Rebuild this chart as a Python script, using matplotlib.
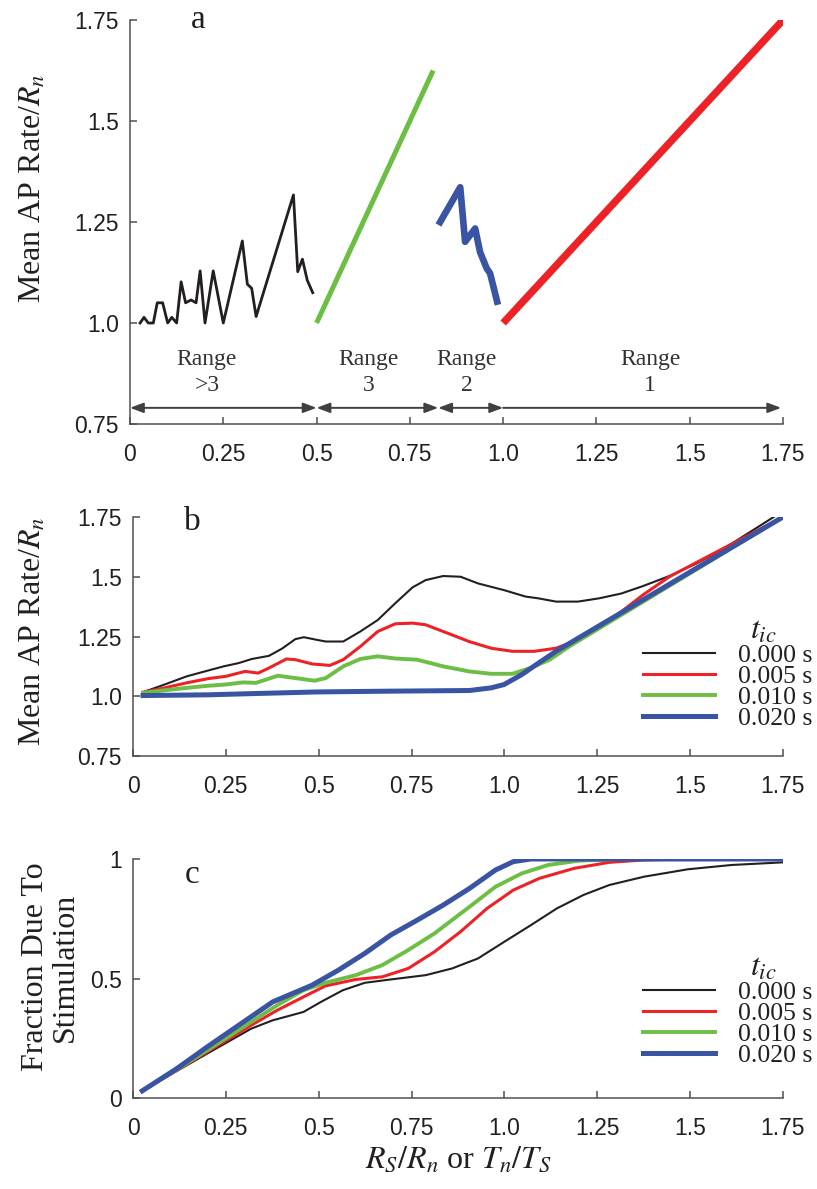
import matplotlib
matplotlib.use('Agg')
import matplotlib.pyplot as plt

# ---- data ----
# panel a
a_black_x = [0.027, 0.0375, 0.049, 0.0625, 0.073, 0.0875, 0.101, 0.112, 0.125, 0.137, 0.149,
             0.1635, 0.177, 0.188, 0.201, 0.223, 0.250, 0.301, 0.3145, 0.326, 0.338, 0.438,
             0.4495, 0.462, 0.475, 0.4897]
a_black_y = [1.0, 1.014, 1.0, 1.0, 1.05, 1.05, 1.0, 1.014, 1.0, 1.102, 1.05,
             1.057, 1.05, 1.129, 1.0, 1.129, 1.0, 1.203, 1.096, 1.086, 1.016, 1.317,
             1.127, 1.158, 1.106, 1.075]
a_green_x = [0.5, 0.8125]
a_green_y = [1.0, 1.625]
a_blue_x = [0.8266, 0.885, 0.898, 0.925, 0.938, 0.956, 0.965, 0.986]
a_blue_y = [1.2426, 1.336, 1.201, 1.234, 1.176, 1.135, 1.123, 1.045]
a_red_x = [1.0, 1.75]
a_red_y = [1.0, 1.75]

range_bounds = [0.0, 0.5, 0.826, 1.0, 1.745]
range_names = ['Range\n>3', 'Range\n3', 'Range\n2', 'Range\n1']
range_label_x = [0.206, 0.64, 0.903, 1.394]

# panel b
b_black_x = [0.027, 0.085, 0.144, 0.203, 0.244, 0.285, 0.32, 0.366, 0.402, 0.437, 0.46, 0.495,
             0.519, 0.566, 0.612, 0.659, 0.706, 0.753, 0.788, 0.835, 0.882, 0.929, 0.999,
             1.057, 1.09, 1.139, 1.198, 1.256, 1.315, 1.373, 1.444, 1.514, 1.584, 1.655, 1.725]
b_black_y = [1.017, 1.049, 1.083, 1.108, 1.125, 1.139, 1.156, 1.169, 1.20, 1.239, 1.247, 1.236,
             1.229, 1.229, 1.271, 1.319, 1.389, 1.456, 1.486, 1.503, 1.50, 1.472, 1.444,
             1.417, 1.41, 1.396, 1.396, 1.41, 1.43, 1.461, 1.503, 1.553, 1.611, 1.681, 1.75]
b_red_x = [0.027, 0.085, 0.144, 0.203, 0.249, 0.302, 0.337, 0.366, 0.413, 0.437, 0.483, 0.53,
           0.566, 0.612, 0.659, 0.706, 0.753, 0.788, 0.847, 0.905, 0.964, 1.022, 1.08, 1.139,
           1.198, 1.256, 1.315, 1.373, 1.444, 1.75]
b_red_y = [1.017, 1.035, 1.056, 1.074, 1.083, 1.104, 1.097, 1.118, 1.156, 1.153, 1.135, 1.129,
           1.153, 1.208, 1.271, 1.303, 1.306, 1.299, 1.264, 1.229, 1.201, 1.188, 1.188, 1.201,
           1.236, 1.285, 1.354, 1.424, 1.50, 1.75]
b_green_x = [0.027, 0.085, 0.144, 0.203, 0.249, 0.296, 0.331, 0.39, 0.437, 0.489, 0.519, 0.566,
             0.612, 0.659, 0.706, 0.765, 0.835, 0.905, 0.964, 1.022, 1.069, 1.122, 1.174, 1.75]
b_green_y = [1.014, 1.025, 1.035, 1.044, 1.049, 1.058, 1.056, 1.086, 1.076, 1.065, 1.076, 1.125,
             1.156, 1.167, 1.158, 1.153, 1.125, 1.104, 1.094, 1.094, 1.118, 1.153, 1.208, 1.75]
b_blue_x = [0.027, 0.203, 0.32, 0.495, 0.671, 0.905, 0.964, 0.999, 1.046, 1.092, 1.139, 1.75]
b_blue_y = [1.003, 1.006, 1.011, 1.018, 1.021, 1.024, 1.035, 1.049, 1.09, 1.139, 1.188, 1.75]

# panel c
c_black_x = [0.025, 0.118, 0.2, 0.318, 0.376, 0.459, 0.506, 0.565, 0.624, 0.694, 0.788, 0.859,
             0.929, 1.0, 1.071, 1.141, 1.212, 1.282, 1.376, 1.494, 1.612, 1.75]
c_black_y = [0.03, 0.113, 0.186, 0.29, 0.325, 0.36, 0.402, 0.451, 0.482, 0.496, 0.514, 0.542,
             0.584, 0.654, 0.723, 0.793, 0.849, 0.891, 0.926, 0.957, 0.975, 0.986]
c_red_x = [0.025, 0.118, 0.2, 0.318, 0.388, 0.459, 0.518, 0.6, 0.671, 0.741, 0.812, 0.882,
           0.953, 1.024, 1.094, 1.188, 1.282, 1.376, 1.494, 1.75]
c_red_y = [0.03, 0.116, 0.193, 0.304, 0.367, 0.423, 0.469, 0.496, 0.507, 0.542, 0.612, 0.696,
           0.793, 0.87, 0.919, 0.961, 0.986, 0.996, 1.0, 1.0]
c_green_x = [0.025, 0.118, 0.2, 0.318, 0.388, 0.459, 0.518, 0.6, 0.671, 0.741, 0.812, 0.906,
             0.976, 1.047, 1.118, 1.2, 1.318, 1.75]
c_green_y = [0.03, 0.119, 0.2, 0.318, 0.388, 0.451, 0.482, 0.514, 0.556, 0.619, 0.689, 0.8,
             0.884, 0.94, 0.975, 0.993, 1.0, 1.0]
c_blue_x = [0.025, 0.118, 0.2, 0.318, 0.376, 0.482, 0.553, 0.624, 0.694, 0.765, 0.835, 0.906,
            0.976, 1.024, 1.071, 1.75]
c_blue_y = [0.03, 0.123, 0.214, 0.34, 0.402, 0.472, 0.535, 0.605, 0.682, 0.744, 0.807, 0.877,
            0.954, 0.989, 1.0, 1.0]

tic_labels = ['0.000 s', '0.005 s', '0.010 s', '0.020 s']
x_ticks = [0, 0.25, 0.5, 0.75, 1.0, 1.25, 1.5, 1.75]
x_ticklabels = ['0', '0.25', '0.5', '0.75', '1.0', '1.25', '1.5', '1.75']
ab_yticks = [0.75, 1.0, 1.25, 1.5, 1.75]
ab_yticklabels = ['0.75', '1.0', '1.25', '1.5', '1.75']
c_yticks = [0, 0.5, 1]
c_yticklabels = ['0', '0.5', '1']

# ---- style ----
plt.rcParams['mathtext.fontset'] = 'stix'
SERIF = 'Liberation Serif'
SANS = 'Liberation Sans'
INK = '#231f20'
AXC = '#505050'
col_black = '#231f20'
col_red = '#ec2227'
col_green = '#6cbe45'
col_blue = '#3a54a4'
lws = [1.5, 2.2, 2.8, 3.6]
cols = [col_black, col_red, col_green, col_blue]

fig = plt.figure(figsize=(8.17, 11.89), dpi=100)
ax_a = fig.add_axes([130/817, 1-424/1189, 653/817, 404/1189])
ax_b = fig.add_axes([133/817, 1-756/1189, 650/817, 239/1189])
ax_c = fig.add_axes([133/817, 1-1098/1189, 650/817, 239/1189])


def style_axes(ax, yticks, yticklabels):
    for s in ['top', 'right']:
        ax.spines[s].set_visible(False)
    for s in ['left', 'bottom']:
        ax.spines[s].set_color(AXC)
        ax.spines[s].set_linewidth(1.1)
    ax.set_xlim(0, 1.75)
    ax.set_xticks(x_ticks)
    ax.set_xticklabels(x_ticklabels, family=SANS, fontsize=16.5, color=INK)
    ax.set_yticks(yticks)
    ax.set_yticklabels(yticklabels, family=SANS, fontsize=16.5, color=INK)
    ax.tick_params(axis='both', direction='in', length=5, width=1.1, color=AXC)
    ax.tick_params(axis='x', pad=14)
    ax.tick_params(axis='y', pad=8)


# panel a
ax_a.plot(a_black_x, a_black_y, color=col_black, lw=2.0)
ax_a.plot(a_green_x, a_green_y, color=col_green, lw=3.6, solid_capstyle='butt')
ax_a.plot(a_blue_x, a_blue_y, color=col_blue, lw=4.8, solid_capstyle='butt')
ax_a.plot(a_red_x, a_red_y, color=col_red, lw=5.3, solid_capstyle='butt')
ax_a.set_ylim(0.75, 1.75)
style_axes(ax_a, ab_yticks, ab_yticklabels)

arrow_y = 0.79
for i in range(4):
    style = '<|-|>' if i < 3 else '<|-'
    ax_a.annotate('', xy=(range_bounds[i], arrow_y), xytext=(range_bounds[i+1], arrow_y),
                  arrowprops=dict(arrowstyle=style + ',head_length=0.8,head_width=0.3',
                                  color='#404040', lw=1.4, shrinkA=0, shrinkB=0,
                                  mutation_scale=10))
    ax_a.text(range_label_x[i], 0.877, range_names[i], ha='center', va='center',
              family=SERIF, fontsize=17, color='#333333', linespacing=1.3)

ax_a.text(0.104, 1.0, 'a', transform=ax_a.transAxes, ha='center', va='center',
          family=SERIF, fontsize=24, color=INK)
ax_a.set_ylabel('Mean AP Rate/$R_n$', family=SERIF, fontsize=23, color=INK)
ax_a.yaxis.set_label_coords(-0.126, 0.584)

# panel b
for xs, ys, c, lw, lab in zip([b_black_x, b_red_x, b_green_x, b_blue_x],
                              [b_black_y, b_red_y, b_green_y, b_blue_y],
                              cols, lws, tic_labels):
    ax_b.plot(xs, ys, color=c, lw=lw, label=lab)
ax_b.set_ylim(0.75, 1.75)
style_axes(ax_b, ab_yticks, ab_yticklabels)
ax_b.text(0.091, 0.979, 'b', transform=ax_b.transAxes, ha='center', va='center',
          family=SERIF, fontsize=24, color=INK)
ax_b.set_ylabel('Mean AP Rate/$R_n$', family=SERIF, fontsize=23, color=INK)
ax_b.yaxis.set_label_coords(-0.131, 0.52)

# panel c
for xs, ys, c, lw, lab in zip([c_black_x, c_red_x, c_green_x, c_blue_x],
                              [c_black_y, c_red_y, c_green_y, c_blue_y],
                              cols, lws, tic_labels):
    ax_c.plot(xs, ys, color=c, lw=lw, label=lab)
ax_c.set_ylim(0, 1)
style_axes(ax_c, c_yticks, c_yticklabels)
ax_c.text(0.091, 0.933, 'c', transform=ax_c.transAxes, ha='center', va='center',
          family=SERIF, fontsize=24, color=INK)
ax_c.set_ylabel('Fraction Due To\nStimulation', family=SERIF, fontsize=23, color=INK,
                linespacing=1.05)
ax_c.yaxis.set_label_coords(-0.082, 0.548)
ax_c.set_xlabel('$R_S/R_n$ or $T_n/T_S$', family=SERIF, fontsize=23, color=INK)
ax_c.xaxis.set_label_coords(0.5, -0.2)

# legends (title drawn as separate text, offset right like the original)
for ax, top, ttl in [(ax_b, 0.469, 0.527), (ax_c, 0.49, 0.548)]:
    leg = ax.legend(loc='upper left', bbox_to_anchor=(0.785, top), frameon=False,
                    prop={'family': SERIF, 'size': 18.5}, handlelength=2.8,
                    handletextpad=0.9, labelspacing=-0.08, borderpad=0,
                    borderaxespad=0)
    for t in leg.get_texts():
        t.set_color(INK)
    ax.text(0.969, ttl, '$t_{ic}$', transform=ax.transAxes, ha='center', va='center',
            fontsize=23, color=INK)

fig.savefig('out.png', dpi=100)
